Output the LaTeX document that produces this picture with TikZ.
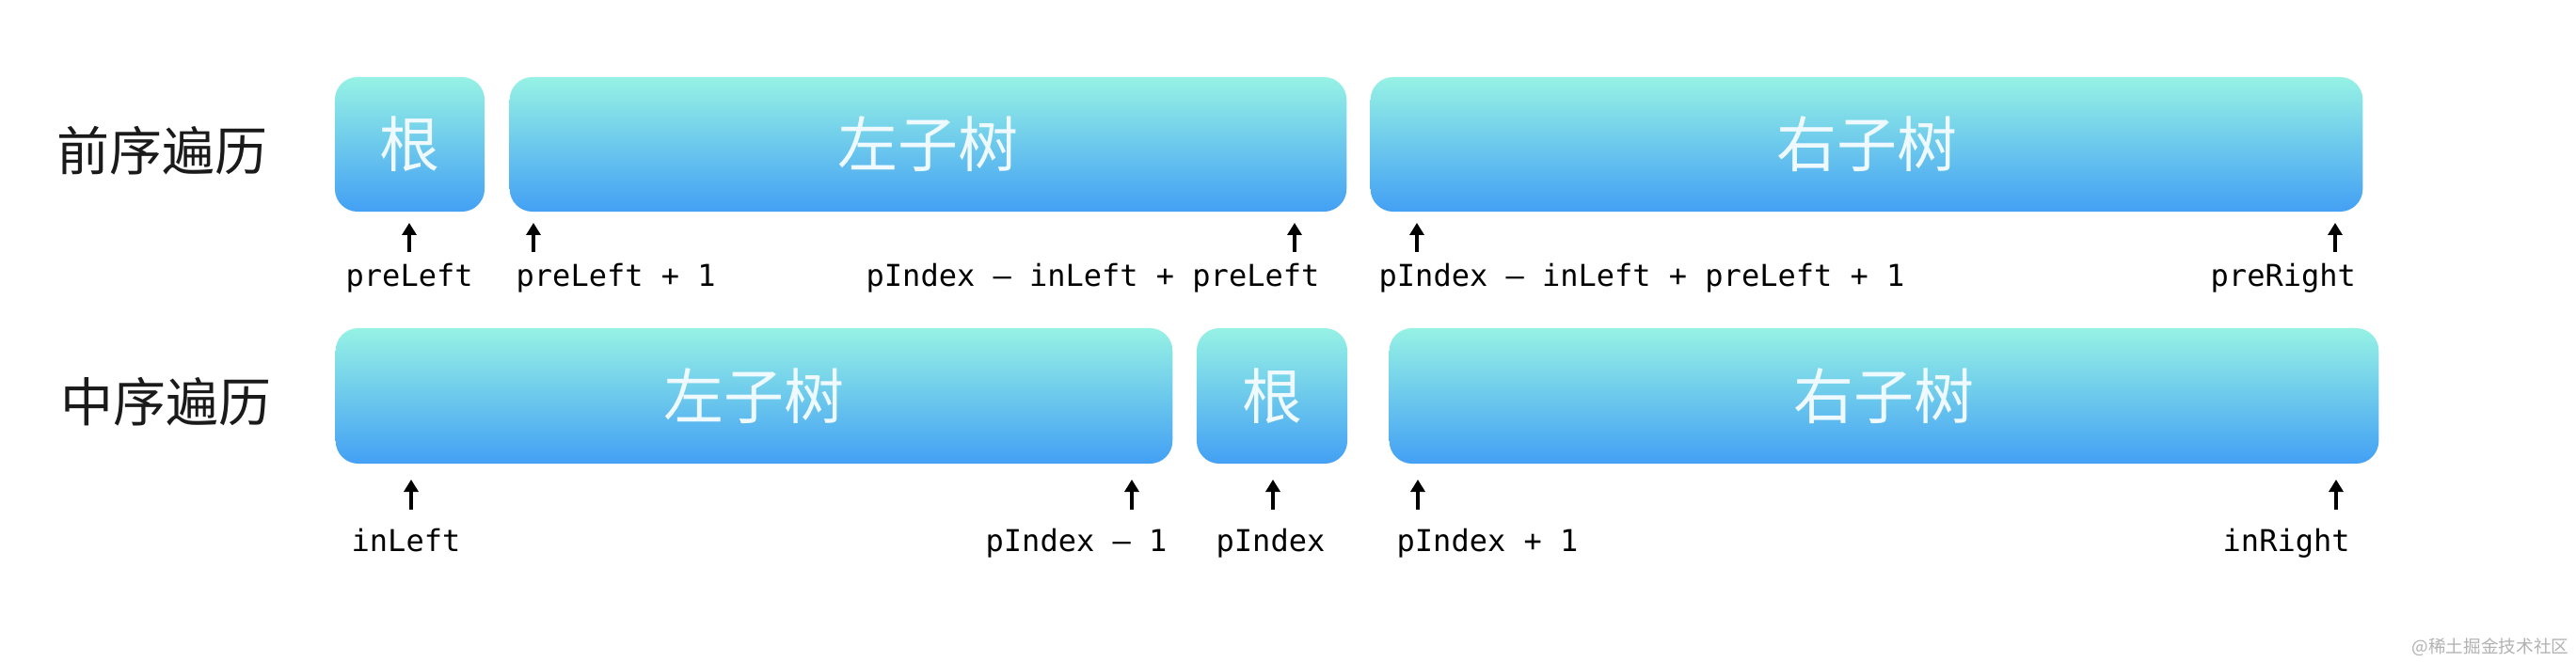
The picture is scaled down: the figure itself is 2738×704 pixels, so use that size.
\documentclass[tikz,border=0pt]{standalone}
\usepackage{fontspec}
\newfontfamily\cjk{Noto Sans CJK SC}
\setmonofont{DejaVu Sans Mono}
\usetikzlibrary{arrows.meta}
\definecolor{boxtop}{HTML}{96F2E4}
\definecolor{boxbot}{HTML}{43A0F4}
\definecolor{boxtxt}{HTML}{EEFAFF}
\definecolor{lbl}{HTML}{1A1A1A}
\tikzset{
  segbox/.style={rectangle, rounded corners=0.24cm, top color=boxtop, bottom color=boxbot,
    draw=none, inner sep=0pt, text=boxtxt, font=\cjk\fontsize{18.2pt}{18.2pt}\selectfont},
  rowlabel/.style={anchor=west, inner sep=0pt, text=lbl, font=\cjk\fontsize{15.9pt}{15.9pt}\selectfont},
  idx/.style={anchor=base west, inner sep=0pt, text=black, font=\ttfamily\fontsize{9.1pt}{9.1pt}\selectfont},
  uparr/.style={line width=0.035cm, black, -{Triangle[length=0.13cm, width=0.15cm]}},
  wmark/.style={anchor=east, inner sep=0pt, text=black!30, font=\cjk\fontsize{5.3pt}{5.3pt}\selectfont}
}
\begin{document}
\begin{tikzpicture}[x=0.01cm, y=-0.01cm]
\useasboundingbox (0,0) rectangle (2738,704);
\fill[white] (0,0) rectangle (2738,704);

% row labels
\node[rowlabel] (preLabel) at (60,160) {前序遍历};
\node[rowlabel] (inLabel) at (64,427) {中序遍历};

% preorder boxes
\node[segbox, minimum width=1.59cm, minimum height=1.43cm] (pRoot) at (435.5,153.5) {根};
\node[segbox, minimum width=8.89cm, minimum height=1.43cm] (pLeft) at (986.5,153.5) {左子树};
\node[segbox, minimum width=10.54cm, minimum height=1.43cm] (pRight) at (1984,153.5) {右子树};

% inorder boxes
\node[segbox, minimum width=8.89cm, minimum height=1.44cm] (iLeft) at (801.5,421) {左子树};
\node[segbox, minimum width=1.60cm, minimum height=1.44cm] (iRoot) at (1352,421) {根};
\node[segbox, minimum width=10.51cm, minimum height=1.44cm] (iRight) at (2002.5,421) {右子树};

% preorder arrows
\foreach \n/\x in {a1/435, a2/567, a3/1376, a4/1506, a5/2482}{
  \coordinate (\n s) at (\x,268);
  \coordinate (\n e) at (\x,237);
  \draw[uparr] (\n s) -- (\n e);
}
% inorder arrows
\foreach \n/\x in {b1/437, b2/1203, b3/1353, b4/1507, b5/2483}{
  \coordinate (\n s) at (\x,542);
  \coordinate (\n e) at (\x,510);
  \draw[uparr] (\n s) -- (\n e);
}

% preorder index labels
\node[idx] (l1) at (367,305) {preLeft};
\node[idx] (l2) at (548,305) {preLeft + 1};
\node[idx] (l3) at (920,305) {pIndex – inLeft + preLeft};
\node[idx] (l4) at (1465,305) {pIndex – inLeft + preLeft + 1};
\node[idx] (l5) at (2349,305) {preRight};

% inorder index labels
\node[idx] (m1) at (373,587) {inLeft};
\node[idx] (m2) at (1047,587) {pIndex – 1};
\node[idx] (m3) at (1292,587) {pIndex};
\node[idx] (m4) at (1484,587) {pIndex + 1};
\node[idx] (m5) at (2362,587) {inRight};

% watermark
\node[wmark] (wm) at (2731,688) {@稀土掘金技术社区};
\end{tikzpicture}
\end{document}
